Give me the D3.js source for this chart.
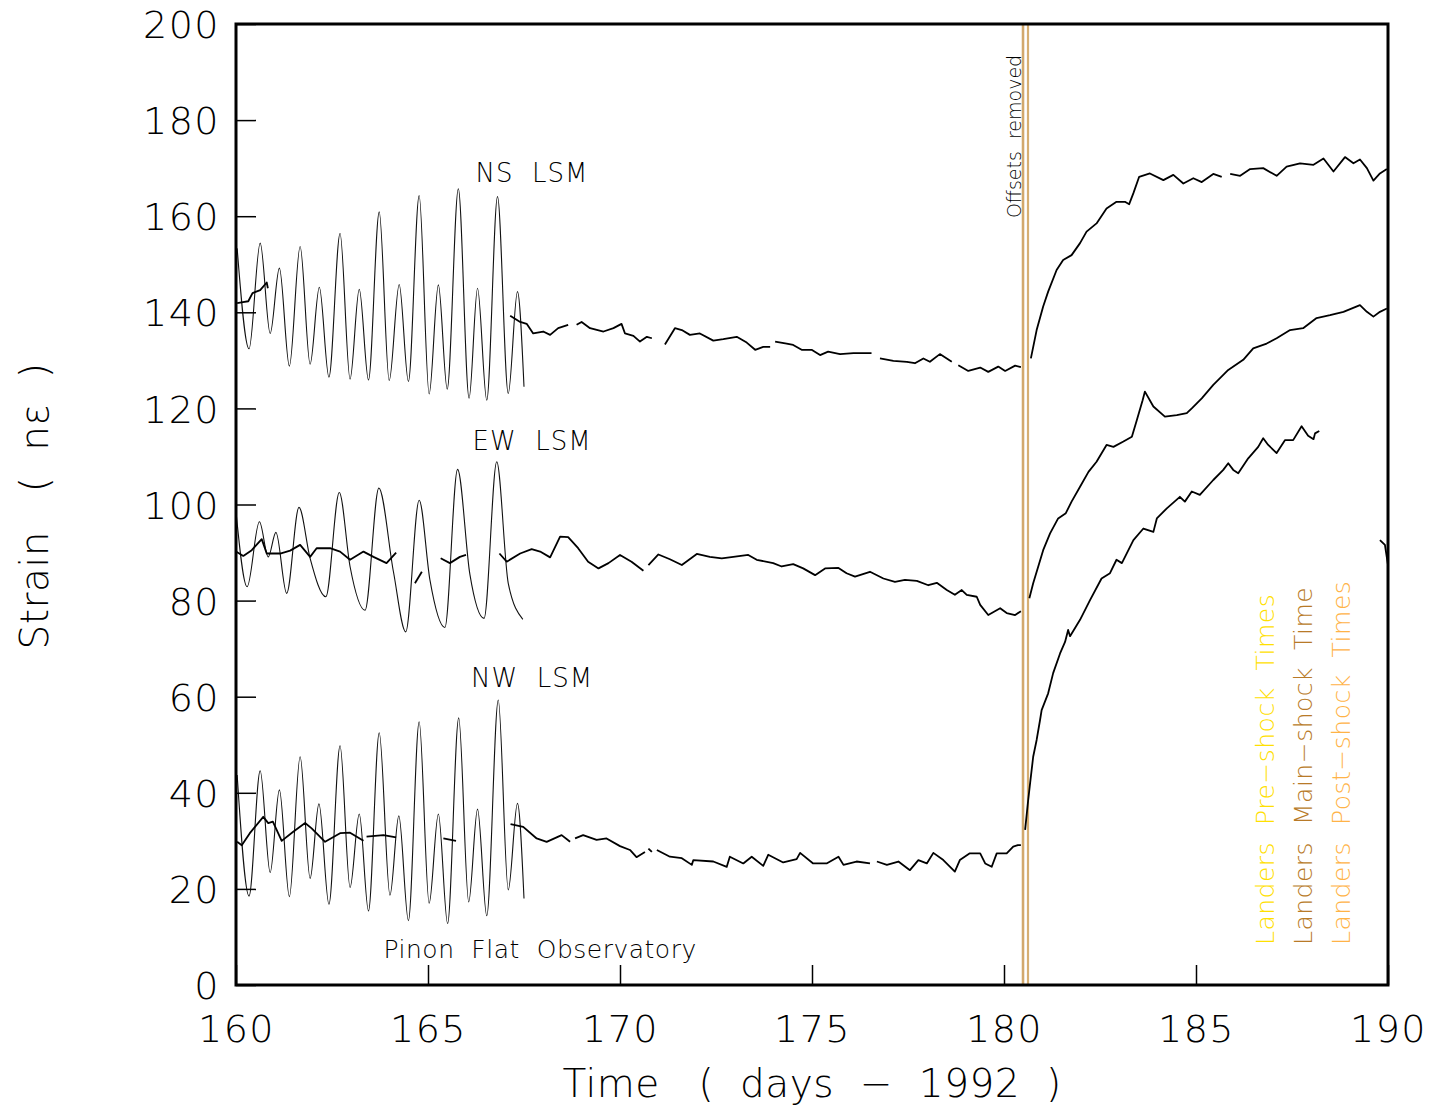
<!DOCTYPE html>
<html>
<head>
<meta charset="utf-8">
<script src="https://cdn.jsdelivr.net/npm/d3@7"></script>
<style>
  body { margin: 0; background: #fff; }
  text { font-family: "DejaVu Sans", sans-serif; font-weight: 200; white-space: pre; }
</style>
</head>
<body>
<svg id="chart" width="1445" height="1109"></svg>
<script>
// tick labels
const xTicks = [160, 165, 170, 175, 180, 185, 190];
const yTicks = [0, 20, 40, 60, 80, 100, 120, 140, 160, 180, 200];

// Landers event times (days - 1992)
const events = [
  { name: "pre", day: 180.49, color: "#d6ae72" },
  { name: "main", day: 180.50, color: "#d2a86c" },
  { name: "post", day: 180.625, color: "#d6ae72" }
];

// tidal (theoretical) curves, peaks and troughs
const nsTide = [[160.03,153.3],[160.34,132.4],[160.63,154.4],[160.89,135.6],[161.13,149.2],[161.39,128.8],[161.67,153.7],[161.93,129.2],[162.17,145.2],[162.42,126.5],[162.71,156.4],[162.97,126.1],[163.21,144.8],[163.45,125.9],[163.73,160.9],[163.99,125.8],[164.25,145.8],[164.49,125.6],[164.77,164.3],[165.03,123.0],[165.27,145.7],[165.50,124.0],[165.79,165.7],[166.07,122.1],[166.29,145.0],[166.53,121.7],[166.81,164.1],[167.09,123.1],[167.33,144.3],[167.50,124.5]];
const ewTide = [[160.00,98.5],[160.29,82.9],[160.61,96.4],[160.84,89.1],[161.04,94.2],[161.32,81.5],[161.64,99.4],[161.93,88.8],[162.34,80.8],[162.69,102.5],[162.97,87.1],[163.36,78.0],[163.72,103.4],[164.10,86.0],[164.42,73.5],[164.77,100.9],[165.05,84.3],[165.44,74.4],[165.77,107.3],[166.09,85.5],[166.46,76.3],[166.79,108.9],[167.09,83.6],[167.47,76.1]];
const nwTide = [[160.03,43.7],[160.34,18.5],[160.63,44.6],[160.89,23.4],[161.13,40.6],[161.39,18.4],[161.67,47.5],[161.93,22.2],[162.16,37.7],[162.42,16.8],[162.71,49.8],[162.97,20.3],[163.21,35.6],[163.45,15.4],[163.73,52.5],[164.01,18.7],[164.24,35.2],[164.49,13.4],[164.77,54.8],[165.03,17.0],[165.27,35.6],[165.51,12.8],[165.80,55.6],[166.06,17.3],[166.29,36.6],[166.53,14.4],[166.83,59.3],[167.09,19.8],[167.33,37.8],[167.50,18.0]];

// observed strain, NS component (segments)
const nsObs = [
  [[160.03,141.9],[160.18,142.1],[160.32,142.3],[160.43,144.0],[160.63,144.6],[160.80,146.2],[160.83,145.0]],
  [[167.14,139.3],[167.40,138.0],[167.57,137.6],[167.74,135.6],[168.00,136.0],[168.18,135.3],[168.39,136.7],[168.65,137.4]],
  [[168.87,137.4],[169.00,138.0],[169.22,136.7],[169.57,136.0],[169.83,136.7],[170.04,137.6],[170.13,135.6],[170.35,135.1],[170.52,133.9],[170.70,134.9],[170.83,134.6]],
  [[171.17,133.3],[171.43,136.7],[171.61,136.3],[171.82,135.3],[172.08,135.6],[172.43,134.1],[172.69,134.4],[173.04,134.9],[173.30,133.7],[173.52,132.2],[173.73,132.8],[173.91,132.8]],
  [[174.04,133.9],[174.34,133.5],[174.51,133.2],[174.73,132.2],[174.99,132.2],[175.21,131.1],[175.42,131.8],[175.73,131.3],[176.08,131.5],[176.55,131.5]],
  [[176.77,130.4],[177.12,129.9],[177.47,129.7],[177.68,129.4],[177.90,130.4],[178.07,129.7],[178.33,131.3],[178.64,129.7]],
  [[178.81,129.0],[179.07,127.8],[179.38,128.5],[179.59,127.6],[179.85,128.7],[180.03,127.8],[180.29,128.9],[180.44,128.6]],
  [[180.70,130.4],[180.85,136.3],[181.02,141.2],[181.15,144.3],[181.37,148.8],[181.54,150.9],[181.76,151.9],[181.98,154.4],[182.15,156.8],[182.41,158.5],[182.67,161.6],[182.93,163.0],[183.15,163.0],[183.26,162.5],[183.37,164.8],[183.52,168.2],[183.80,168.9],[184.15,167.5],[184.41,168.6],[184.67,166.8],[184.93,167.9],[185.15,167.1],[185.45,168.8],[185.67,168.2]],
  [[185.89,168.8],[186.15,168.4],[186.41,169.8],[186.75,170.0],[187.10,168.4],[187.36,170.3],[187.71,171.0],[188.06,170.7],[188.32,172.0],[188.58,169.3],[188.88,172.3],[189.10,171.0],[189.27,171.8],[189.45,170.0],[189.62,167.4],[189.79,168.9],[189.97,169.8]]
];

// observed strain, EW component
const ewObs = [
  [[160.00,90.2],[160.19,89.3],[160.41,90.5],[160.67,92.8],[160.80,89.8],[161.15,89.8],[161.41,90.4],[161.67,91.6],[161.93,89.1],[162.10,90.9],[162.45,90.9],[162.71,90.2],[162.97,88.5],[163.32,90.2],[163.58,89.1],[163.92,87.8],[164.17,90.0]],
  [[164.66,83.6],[164.84,86.0]],
  [[165.33,88.8],[165.57,87.8],[165.83,89.1],[165.99,89.5]],
  [[166.86,89.8],[167.05,88.1],[167.40,89.8],[167.70,90.7],[167.92,90.2],[168.18,89.0],[168.44,93.3],[168.65,93.2],[168.91,90.9],[169.17,88.1],[169.44,86.7],[169.70,87.8],[170.00,89.5],[170.30,88.1],[170.61,86.2]],
  [[170.74,87.4],[171.00,89.6],[171.30,88.6],[171.61,87.4],[172.00,89.7],[172.34,89.1],[172.65,88.8],[172.95,89.1],[173.34,89.5],[173.56,88.5],[173.99,87.8],[174.21,87.1],[174.51,87.6],[174.77,86.7],[175.08,85.3],[175.34,86.7],[175.69,86.8],[175.90,85.7],[176.12,85.0],[176.51,86.0],[176.86,84.6],[177.16,83.9],[177.42,84.3],[177.73,84.1],[178.03,83.2],[178.25,83.7],[178.51,82.2],[178.72,81.2],[178.90,82.2],[179.03,81.2],[179.29,80.8],[179.38,79.1],[179.59,77.0],[179.90,78.4],[180.07,77.4],[180.29,77.0],[180.44,77.8]],
  [[180.66,80.5],[180.76,83.6],[181.02,90.5],[181.20,94.0],[181.41,97.1],[181.61,98.2],[181.76,100.6],[181.98,103.7],[182.20,106.8],[182.41,108.9],[182.67,112.4],[182.85,112.0],[183.11,113.1],[183.33,114.1],[183.46,117.6],[183.61,121.7],[183.67,123.5],[183.89,120.4],[184.19,118.3],[184.50,118.6],[184.76,119.0],[184.89,120.0],[185.15,122.1],[185.45,124.9],[185.84,128.0],[186.23,130.1],[186.49,132.5],[186.84,133.5],[187.10,134.6],[187.45,136.3],[187.79,136.7],[188.14,138.8],[188.49,139.4],[188.84,140.1],[189.27,141.5],[189.45,140.1],[189.62,139.1],[189.79,140.1],[189.97,140.8]]
];

// observed strain, NW component
const nwObs = [
  [[160.03,29.8],[160.15,29.1],[160.36,31.6],[160.71,35.0],[160.84,33.7],[160.96,34.0],[161.19,30.0],[161.49,31.9],[161.80,33.7],[161.97,32.6],[162.32,29.8],[162.71,31.6],[162.97,31.7],[163.32,30.0]],
  [[163.40,30.9],[163.84,31.2],[164.17,30.7]],
  [[165.40,30.5],[165.73,30.0]],
  [[167.15,33.5],[167.48,32.9],[167.83,30.5],[168.09,29.8],[168.48,31.2],[168.70,29.8]],
  [[168.83,30.5],[169.04,31.2],[169.39,30.2],[169.65,30.5],[170.00,28.9],[170.26,28.1],[170.43,26.6],[170.65,27.7]],
  [[170.74,28.4],[170.83,27.7]],
  [[170.96,28.1],[171.30,26.7],[171.61,26.4],[171.87,25.0],[171.91,26.0],[172.43,25.7],[172.78,24.6],[172.86,26.7],[173.21,25.3],[173.43,26.7],[173.73,24.8],[173.86,27.1],[174.25,25.5],[174.60,26.2],[174.69,27.5],[175.03,25.3],[175.38,25.3],[175.69,26.7],[175.82,25.0],[176.16,25.7],[176.51,25.3]],
  [[176.69,25.7],[176.95,25.0],[177.25,25.7],[177.55,23.9],[177.77,26.0],[177.99,25.3],[178.16,27.5],[178.42,26.0],[178.72,23.6],[178.85,26.0],[179.11,27.4],[179.38,27.4],[179.51,25.3],[179.68,24.6],[179.81,27.4],[180.07,27.4],[180.24,28.8],[180.36,29.1],[180.44,29.1]],
  [[180.55,32.3],[180.63,38.5],[180.68,42.0],[180.76,47.5],[180.85,51.0],[180.94,55.2],[180.98,57.2],[181.15,60.7],[181.28,64.9],[181.46,69.0],[181.59,71.4],[181.67,73.9],[181.72,72.6],[181.98,76.0],[182.24,80.1],[182.54,84.6],[182.76,85.7],[182.93,88.5],[183.07,87.8],[183.37,92.6],[183.63,95.0],[183.89,94.3],[183.98,97.1],[184.24,99.2],[184.58,101.6],[184.71,100.6],[184.89,102.7],[185.10,102.0],[185.45,105.1],[185.71,107.2],[185.84,108.6],[185.97,107.2],[186.10,106.5],[186.36,109.6],[186.62,112.0],[186.75,113.8],[186.88,112.4],[187.10,110.7],[187.32,113.4],[187.53,113.4],[187.75,116.3],[187.92,114.3],[188.06,113.6],[188.10,114.8],[188.21,115.3]],
  [[189.79,92.6],[189.92,91.6],[190.00,87.4]]
];

const labels = [
  { text: "NS  LSM", day: 167.71, value: 167.1 },
  { text: "EW  LSM", day: 167.71, value: 111.3 },
  { text: "NW  LSM", day: 167.71, value: 62.0 }
];

const legend = [
  { text: "Landers  Pre\u2212shock  Times", color: "#ffe000" },
  { text: "Landers  Main\u2212shock  Time", color: "#b87a28" },
  { text: "Landers  Post\u2212shock  Times", color: "#ffb347" }
];

const svg = d3.select("#chart");
const margin = { top: 24, right: 57, bottom: 124, left: 236 };
const width = 1445 - margin.left - margin.right;
const height = 1109 - margin.top - margin.bottom;

const g = svg.append("g").attr("transform", `translate(${margin.left},${margin.top})`);

const x = d3.scaleLinear().domain([160, 190]).range([0, width]);
const y = d3.scaleLinear().domain([0, 200]).range([height, 0]);

// event lines
g.selectAll(".event")
  .data(events)
  .enter()
  .append("line")
  .attr("x1", d => x(d.day)).attr("x2", d => x(d.day))
  .attr("y1", 0).attr("y2", height)
  .attr("stroke", d => d.color)
  .attr("stroke-width", 2.2);

const tideLine = d3.line().x(d => x(d[0])).y(d => y(d[1])).curve(d3.curveMonotoneX);
const obsLine = d3.line().x(d => x(d[0])).y(d => y(d[1]));

[nsTide, ewTide, nwTide].forEach(t => {
  g.append("path")
    .attr("d", tideLine(t))
    .attr("fill", "none")
    .attr("stroke", "#111")
    .attr("stroke-width", 1.1);
});

[nsObs, ewObs, nwObs].forEach(series => {
  g.selectAll(null)
    .data(series)
    .enter()
    .append("path")
    .attr("d", obsLine)
    .attr("fill", "none")
    .attr("stroke", "#000")
    .attr("stroke-width", 1.8)
    .attr("stroke-linejoin", "round");
});

// frame
g.append("rect")
  .attr("width", width).attr("height", height)
  .attr("fill", "none").attr("stroke", "#000").attr("stroke-width", 3);

// ticks point inward
const yAxis = d3.axisLeft(y).tickValues(yTicks).tickSize(-20).tickPadding(16).tickFormat(d3.format("d"));
const xAxis = d3.axisBottom(x).tickValues(xTicks).tickSize(-20).tickPadding(30).tickFormat(d3.format("d"));

const ya = g.append("g").call(yAxis);
const xa = g.append("g").attr("transform", `translate(0,${height})`).call(xAxis);
[ya, xa].forEach(a => {
  a.select(".domain").remove();
  a.selectAll(".tick line").attr("stroke", "#000").attr("stroke-width", 1.5);
  a.selectAll(".tick text")
    .attr("fill", "#000")
    .style("font-size", "38px")
    .style("letter-spacing", "1.5px")
    .style("font-family", "'DejaVu Sans', sans-serif")
    .style("font-weight", 200);
});
ya.selectAll(".tick text").attr("dy", "0.36em");
xa.selectAll(".tick text").attr("dy", "0.72em");

// axis titles
svg.append("text")
  .attr("x", 812).attr("y", 1097)
  .attr("text-anchor", "middle")
  .style("font-size", "39px")
  .style("letter-spacing", "0.5px")
  .text("Time   (  days  \u2212  1992  )");

svg.append("text")
  .attr("transform", "translate(48,506) rotate(-90)")
  .attr("text-anchor", "middle")
  .style("font-size", "39px")
  .style("letter-spacing", "0.5px")
  .text("Strain   (  n\u03b5  )");

// component labels
g.selectAll(".lab")
  .data(labels)
  .enter()
  .append("text")
  .attr("x", d => x(d.day)).attr("y", d => y(d.value))
  .attr("text-anchor", "middle")
  .style("font-size", "26px")
  .style("letter-spacing", "1px")
  .text(d => d.text);

g.append("text")
  .attr("x", x(167.92)).attr("y", y(5.6))
  .attr("text-anchor", "middle")
  .style("font-size", "25px")
  .style("letter-spacing", "0.5px")
  .text("Pinon  Flat  Observatory");

g.append("text")
  .attr("transform", `translate(${x(180.45)},${y(159.6)}) rotate(-90)`)
  .attr("text-anchor", "start")
  .style("font-size", "19px")
  .text("Offsets  removed");

// legend text, rotated
g.selectAll(".leg")
  .data(legend)
  .enter()
  .append("text")
  .attr("transform", (d, i) => `translate(${1274 - margin.left + i * 38},${945 - margin.top}) rotate(-90)`)
  .attr("fill", d => d.color)
  .style("font-size", "25px")
  .style("letter-spacing", "0.5px")
  .text(d => d.text);
</script>
</body>
</html>
